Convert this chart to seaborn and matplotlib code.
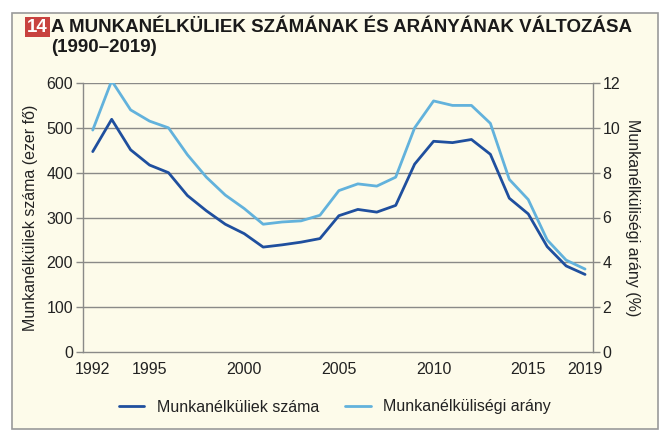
import matplotlib
matplotlib.use('Agg')
import matplotlib.pyplot as plt
import seaborn as sns
import pandas as pd
from matplotlib.patches import Rectangle

# adatok (leolvasva az ábráról)
years = list(range(1992, 2019))
munkanelkuliek = [447, 519, 451, 417, 400, 349, 315, 285, 264, 234, 239, 245, 253,
                  304, 318, 312, 327, 419, 470, 467, 474, 441, 343, 308, 235, 192, 173]
arany = [9.9, 12.1, 10.8, 10.3, 10.0, 8.8, 7.8, 7.0, 6.4, 5.7, 5.8, 5.85, 6.1,
         7.2, 7.5, 7.4, 7.8, 10.0, 11.2, 11.0, 11.0, 10.2, 7.7, 6.8, 5.0, 4.1, 3.7]
tick_years = [1992, 1995, 2000, 2005, 2010, 2015, 2018]
tick_labels = ['1992', '1995', '2000', '2005', '2010', '2015', '2019']

sns.set_style('white')
plt.rcParams['font.family'] = ['Liberation Sans', 'DejaVu Sans']

bg = '#fdfbea'
dark = '#1f4f9e'
light = '#62b2dc'
gridc = '#8a8a88'

df = pd.DataFrame({'ev': years, 'szam': munkanelkuliek, 'arany': arany})

fig = plt.figure(figsize=(6.7, 4.45), dpi=100)
fig.patch.set_facecolor('white')

# keret
fig.patches.append(Rectangle((12.5 / 670, 1 - 429 / 445), 645 / 670, 416 / 445,
                             transform=fig.transFigure, facecolor=bg,
                             edgecolor='#9a9a9a', linewidth=1.2, zorder=-5))

ax = fig.add_axes([82.7 / 670, 1 - 352 / 445, (593 - 82.7) / 670, (352 - 83) / 445])
ax.set_facecolor('none')
ax2 = ax.twinx()
ax2.set_facecolor('none')

sns.lineplot(data=df, x='ev', y='szam', ax=ax, color=dark, linewidth=2, zorder=3)
sns.lineplot(data=df, x='ev', y='arany', ax=ax2, color=light, linewidth=2, zorder=3)

ax.set_xlim(1991.47, 2018.42)
ax.set_ylim(0, 600)
ax2.set_ylim(0, 12)
ax.set_yticks(range(0, 601, 100))
ax2.set_yticks(range(0, 13, 2))
ax.set_xticks(tick_years)
ax.set_xticklabels(tick_labels)

for y in range(100, 601, 100):
    ax.axhline(y, color=gridc, linewidth=1, zorder=1)

for a in (ax, ax2):
    for s in a.spines.values():
        s.set_color(gridc)
        s.set_linewidth(1)
    a.spines['top'].set_visible(False)
    a.tick_params(colors=gridc, labelcolor='#222222', labelsize=11.5,
                  length=5, width=1, pad=2)
ax2.spines['left'].set_visible(False)
ax.spines['right'].set_visible(False)
ax2.spines['bottom'].set_visible(False)

ax.set_xlabel('')
ax.set_ylabel('Munkanélküliek száma (ezer fő)', fontsize=11.5, color='#222222', labelpad=6)
ax2.set_ylabel('Munkanélküliségi arány (%)', fontsize=11.5, color='#222222',
               rotation=270, labelpad=14)

# cím
fig.text(27 / 670, 1 - 27 / 445, '14', fontsize=13.5, fontweight='bold', color='white',
         va='center', ha='left',
         bbox=dict(boxstyle='square,pad=0.1', facecolor='#c8423f', edgecolor='none'))
fig.text(51 / 670, 1 - 27 / 445, 'A MUNKANÉLKÜLIEK SZÁMÁNAK ÉS ARÁNYÁNAK VÁLTOZÁSA',
         fontsize=13.5, fontweight='bold', color='#1a1a1a', va='center', ha='left')
fig.text(51 / 670, 1 - 47 / 445, '(1990–2019)', fontsize=13.5, fontweight='bold',
         color='#1a1a1a', va='center', ha='left')

# jelmagyarázat
h1, = ax.plot([], [], color=dark, linewidth=2)
h2, = ax.plot([], [], color=light, linewidth=2)
fig.legend([h1, h2], ['Munkanélküliek száma', 'Munkanélküliségi arány'],
           loc='center', bbox_to_anchor=(0.5, 1 - 407 / 445), ncol=2, frameon=False,
           fontsize=11.5, handlelength=1.6, columnspacing=1.6, labelcolor='#222222')

fig.savefig('out.png', dpi=100, facecolor='white')
